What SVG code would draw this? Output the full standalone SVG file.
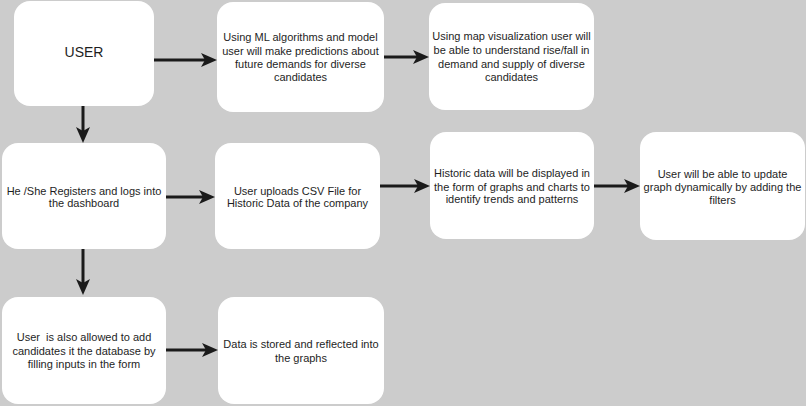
<svg xmlns="http://www.w3.org/2000/svg" width="806" height="406" viewBox="0 0 806 406">
<defs>
<style>
.node rect{fill:#ffffff;stroke:none}
.node text{font-family:"Liberation Sans",Arial,sans-serif;font-size:11px;fill:#1e1e1e;text-anchor:middle}
.big{font-size:14px !important}
.conn path{fill:none;stroke:#1a1a1a;stroke-width:3;marker-end:url(#arr)}
</style>
<marker id="arr" markerUnits="userSpaceOnUse" viewBox="0 0 16 14" refX="4" refY="7" markerWidth="16" markerHeight="14" orient="auto">
<path d="M0,0 L16,7 L0,14 L4,7 Z" fill="#1a1a1a"/>
</marker>
</defs>
<rect x="0" y="0" width="806" height="406" fill="#cccccc"/>
<g id="connectors" class="conn">
<path d="M152,60 H205"/>
<path d="M384,57 H417"/>
<path d="M83,106 V131"/>
<path d="M166,197 H203"/>
<path d="M380,186 H418"/>
<path d="M594,186 H628"/>
<path d="M83,249 V283"/>
<path d="M166,350 H206"/>
</g>
<g id="n-user" class="node">
<rect x="14" y="1" width="140" height="105" rx="16"/>
<text class="big" x="84" y="57">USER</text>
</g>
<g id="n-ml" class="node">
<rect x="217" y="2" width="167" height="110" rx="16"/>
<text x="300.5" y="41">Using ML algorithms and model</text>
<text x="300.5" y="55">user will make predictions about</text>
<text x="300.5" y="68">future demands for diverse</text>
<text x="300.5" y="81">candidates</text>
</g>
<g id="n-map" class="node">
<rect x="429" y="3" width="165" height="107" rx="16"/>
<text x="511.5" y="40">Using map visualization user will</text>
<text x="511.5" y="54">be able to understand rise/fall in</text>
<text x="511.5" y="68">demand and supply of diverse</text>
<text x="511.5" y="81">candidates</text>
</g>
<g id="n-register" class="node">
<rect x="2" y="143" width="164" height="106" rx="16"/>
<text x="84" y="195">He /She Registers and logs into</text>
<text x="84" y="207">the dashboard</text>
</g>
<g id="n-csv" class="node">
<rect x="215" y="143" width="165" height="106" rx="16"/>
<text x="297.5" y="195">User uploads CSV File for</text>
<text x="297.5" y="207">Historic Data of the company</text>
</g>
<g id="n-historic" class="node">
<rect x="430" y="132" width="164" height="107" rx="16"/>
<text x="512" y="177">Historic data will be displayed in</text>
<text x="512" y="191">the form of graphs and charts to</text>
<text x="512" y="203">identify trends and patterns</text>
</g>
<g id="n-filters" class="node">
<rect x="640" y="132" width="165" height="108" rx="16"/>
<text x="722.5" y="178">User will be able to update</text>
<text x="722.5" y="191">graph dynamically by adding the</text>
<text x="722.5" y="204">filters</text>
</g>
<g id="n-add" class="node">
<rect x="2" y="297" width="164" height="107" rx="16"/>
<text x="84" y="341" xml:space="preserve">User  is also allowed to add</text>
<text x="84" y="355">candidates it the database by</text>
<text x="84" y="368">filling inputs in the form</text>
</g>
<g id="n-stored" class="node">
<rect x="218" y="297" width="166" height="107" rx="16"/>
<text x="301" y="348">Data is stored and reflected into</text>
<text x="301" y="362">the graphs</text>
</g>
</svg>
